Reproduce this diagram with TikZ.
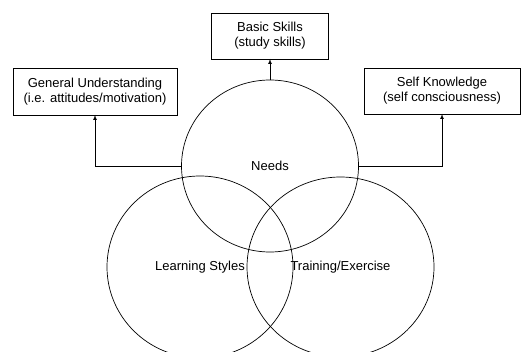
\documentclass[tikz,border=0pt]{standalone}
\usepackage{fontspec}
\setmainfont{Liberation Sans}
\usepackage{tikz}
\usetikzlibrary{shapes,arrows,positioning}
\tikzstyle{topic} = [ellipse, draw=black, line width=0.7pt, outer sep=0pt, inner sep=0pt, text=black, font=\fontsize{13}{15}\selectfont]
\tikzstyle{goal} = [rectangle, draw=black, line width=0.7pt, outer sep=0pt, align=center, text=black, font=\fontsize{13}{15}\selectfont, minimum height=46pt]
\tikzstyle{tedge}  = [draw, line width=0.7pt, >=latex, ->]

\begin{document}
\begin{tikzpicture}[x=1pt, y=-1pt]

\clip (0,0) rectangle (521,352);
\useasboundingbox (0,0) rectangle (521,352);

% circles ================================
\node[topic, minimum width=177pt, minimum height=172pt] (needs) at (270,166) {Needs};
\node[topic, minimum width=186pt, minimum height=182pt] (learn) at (200,267) {Learning Styles};
\node[topic, minimum width=187pt, minimum height=180pt] (train) at (340.5,267) {Training/Exercise};

% outcomes
\node[goal, minimum width=117pt, above=21pt of needs] (basic) {Basic Skills\\(study skills)};
\node[goal, minimum width=164pt, minimum height=47pt] (general) at (95,91.5) {General Understanding\\(i.e. attitudes/motivation)};
\node[goal, minimum width=156pt] (self) at (442,91) {Self Knowledge\\(self consciousness)};

%edges
\path[tedge] (needs.north) -- (basic.south);
\path[tedge] (needs.west) -| (general.south);
\path[tedge] (needs.east) -| (self.south);

\end{tikzpicture}
\end{document}
